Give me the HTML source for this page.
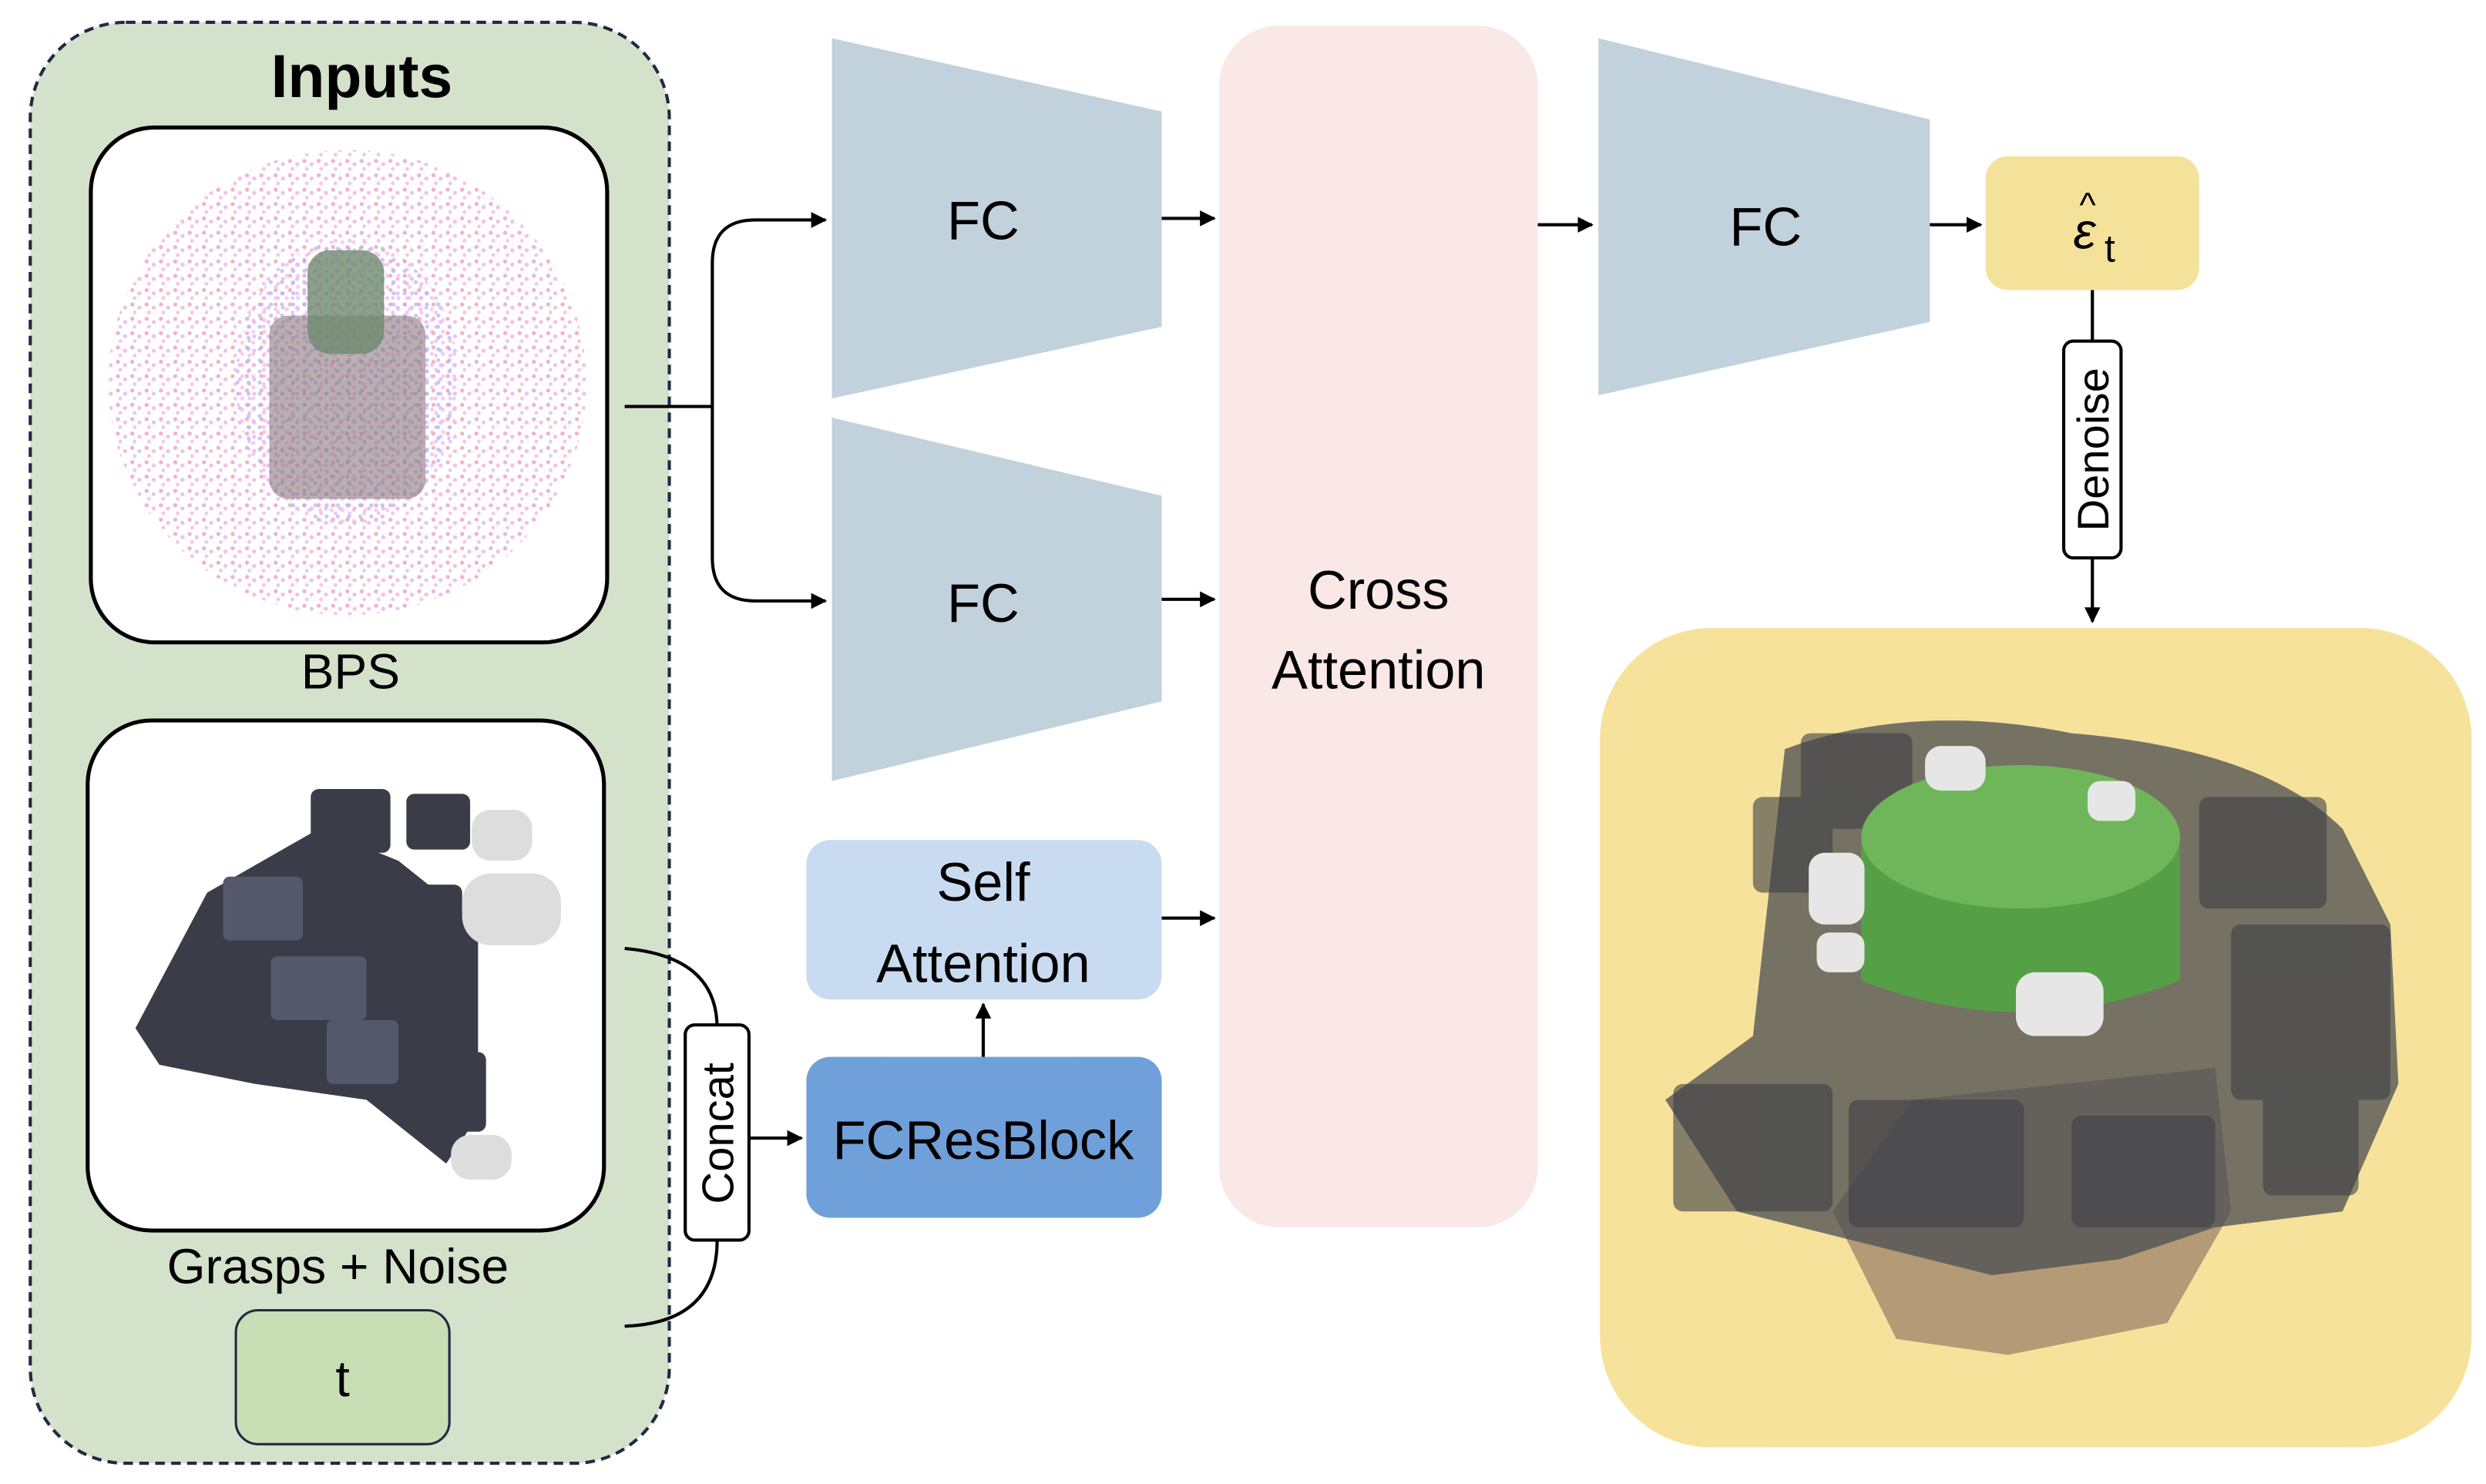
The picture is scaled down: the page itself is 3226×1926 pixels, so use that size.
<!DOCTYPE html>
<html><head><meta charset="utf-8"><style>html,body{margin:0;padding:0;background:#fff}svg{display:block}</style></head>
<body>
<svg width="3226" height="1926" viewBox="0 0 1560 931" preserveAspectRatio="none" xmlns="http://www.w3.org/2000/svg" font-family="Liberation Sans, sans-serif">
<defs>
<marker id="ar" viewBox="0 0 10 10" refX="9" refY="5" markerWidth="5" markerHeight="5" orient="auto"><path d="M0,0L10,5L0,10z" fill="#000"/></marker>
<pattern id="dots" width="9" height="9" patternUnits="userSpaceOnUse"><circle cx="2" cy="2" r="1.3" fill="#f3b3c0"/><circle cx="6.5" cy="4" r="1.3" fill="#f0c0f0"/><circle cx="3.5" cy="7" r="1.2" fill="#f2c6ee"/></pattern>
<pattern id="dots2" width="7" height="7" patternUnits="userSpaceOnUse"><circle cx="2" cy="2" r="1.3" fill="#a8b4f5"/><circle cx="5" cy="5" r="1.3" fill="#f0b8e8"/></pattern>
</defs>
<rect x="19" y="14" width="401" height="904" rx="60" fill="#d5e2cb" stroke="#1f2a44" stroke-width="2" stroke-dasharray="6,4"/>
<text x="227" y="61" font-size="38" font-weight="bold" text-anchor="middle">Inputs</text>
<rect x="57" y="80" width="324" height="323" rx="40" fill="#fff" stroke="#000" stroke-width="2.5"/>
<ellipse cx="218" cy="240" rx="150" ry="146" fill="url(#dots)"/>
<ellipse cx="218" cy="240" rx="70" ry="90" fill="url(#dots2)" opacity="0.7"/>
<rect x="169" y="198" width="98" height="115" rx="12" fill="#8a7a80" opacity="0.6"/>
<rect x="193" y="157" width="48" height="65" rx="14" fill="#6e8a6e" opacity="0.8"/>
<text x="220" y="432" font-size="31" text-anchor="middle">BPS</text>
<rect x="55" y="452" width="324" height="320" rx="40" fill="#fff" stroke="#000" stroke-width="2.5"/>
<g fill="#3a3d48">
<polygon points="85,645 130,560 200,520 250,540 300,580 300,700 280,730 230,690 160,680 100,668"/>
<rect x="195" y="495" width="50" height="40" rx="5"/><rect x="255" y="498" width="40" height="35" rx="5"/>
<rect x="245" y="555" width="45" height="50" rx="5"/><rect x="265" y="660" width="40" height="50" rx="5"/>
</g>
<g fill="#55586a"><rect x="170" y="600" width="60" height="40" rx="4"/><rect x="140" y="550" width="50" height="40" rx="4"/><rect x="205" y="640" width="45" height="40" rx="4"/></g>
<rect x="296" y="508" width="38" height="32" rx="12" fill="#ddd"/>
<rect x="290" y="548" width="62" height="45" rx="18" fill="#ddd"/>
<rect x="283" y="712" width="38" height="28" rx="12" fill="#ddd"/>
<text x="212" y="805" font-size="31" text-anchor="middle">Grasps + Noise</text>
<rect x="148" y="822" width="134" height="84" rx="14" fill="#c8deb5" stroke="#1f2a44" stroke-width="1.5"/>
<text x="215" y="876" font-size="32" text-anchor="middle">t</text>
<path d="M392,255 H447 M447,255 V165 Q447,138 474,138 H518" fill="none" stroke="#000" stroke-width="2" marker-end="url(#ar)"/>
<path d="M447,255 V350 Q447,377 474,377 H518" fill="none" stroke="#000" stroke-width="2" marker-end="url(#ar)"/>
<path d="M392,595 Q450,600 450,645 M450,778 Q450,830 392,832" fill="none" stroke="#000" stroke-width="2"/>
<path d="M470,714 H503" fill="none" stroke="#000" stroke-width="2" marker-end="url(#ar)"/>
<rect x="430" y="643" width="40" height="135" rx="6" fill="#fff" stroke="#000" stroke-width="2"/>
<text transform="translate(460,711) rotate(-90)" font-size="28" text-anchor="middle">Concat</text>
<polygon points="522,24 729,70 729,205 522,250" fill="#c2d2dc"/>
<polygon points="522,262 729,311 729,440 522,490" fill="#c2d2dc"/>
<polygon points="1003,24 1211,75 1211,202 1003,248" fill="#c2d2dc"/>
<text x="617" y="150" font-size="34" text-anchor="middle">FC</text>
<text x="617" y="390" font-size="34" text-anchor="middle">FC</text>
<text x="1108" y="154" font-size="34" text-anchor="middle">FC</text>
<rect x="765" y="16" width="200" height="754" rx="38" fill="#f9e8e6"/>
<text x="865" y="382" font-size="34" text-anchor="middle">Cross</text>
<text x="865" y="432" font-size="34" text-anchor="middle">Attention</text>
<rect x="506" y="527" width="223" height="100" rx="15" fill="#c9dbf0"/>
<text x="617" y="565" font-size="34" text-anchor="middle">Self</text>
<text x="617" y="616" font-size="34" text-anchor="middle">Attention</text>
<rect x="506" y="663" width="223" height="101" rx="15" fill="#6fa0da"/>
<text x="617" y="727" font-size="34" text-anchor="middle">FCResBlock</text>
<g stroke="#000" stroke-width="2" fill="none" marker-end="url(#ar)">
<path d="M617,663 V630"/><path d="M729,137 H762"/><path d="M729,376 H762"/><path d="M729,576 H762"/>
<path d="M965,141 H999"/><path d="M1211,141 H1243"/><path d="M1313,182 V390"/>
</g>
<rect x="1246" y="98" width="134" height="84" rx="14" fill="#f5e29a"/>
<text x="1308" y="156" font-size="32" text-anchor="middle" font-style="italic">ε</text>
<text x="1310" y="136" font-size="22" text-anchor="middle">^</text>
<text x="1324" y="164" font-size="24" text-anchor="middle">t</text>
<rect x="1295" y="214" width="36" height="136" rx="6" fill="#fff" stroke="#000" stroke-width="2"/>
<text transform="translate(1323,282) rotate(-90)" font-size="28" text-anchor="middle">Denoise</text>
<rect x="1004" y="394" width="547" height="514" rx="70" fill="#f6e29b"/>
<polygon points="1150,760 1190,840 1260,850 1360,830 1400,760 1390,670 1200,690" fill="#b59a78"/>
<g fill="#4a4c52" opacity="0.75">
<path d="M1120,470 Q1200,440 1300,460 Q1420,470 1470,520 L1500,580 L1505,680 L1470,760 L1390,770 L1330,790 L1250,800 L1170,780 L1090,760 L1045,690 L1100,650 L1110,560 Z"/>
</g>
<g fill="#3e4046" opacity="0.6">
<rect x="1130" y="460" width="70" height="60" rx="6"/><rect x="1380" y="500" width="80" height="70" rx="6"/><rect x="1400" y="580" width="100" height="110" rx="6"/>
<rect x="1050" y="680" width="100" height="80" rx="6"/><rect x="1160" y="690" width="110" height="80" rx="6"/><rect x="1300" y="700" width="90" height="70" rx="6"/>
<rect x="1100" y="500" width="50" height="60" rx="6"/><rect x="1420" y="680" width="60" height="70" rx="6"/>
</g>
<path d="M1168,525 V615 Q1268,655 1368,615 V525 Z" fill="#55a046"/>
<ellipse cx="1268" cy="525" rx="100" ry="45" fill="#6fb55a"/>
<g fill="#e6e6e6">
<rect x="1208" y="468" width="38" height="28" rx="10"/><rect x="1135" y="535" width="35" height="45" rx="10"/>
<rect x="1265" y="610" width="55" height="40" rx="12"/><rect x="1310" y="490" width="30" height="25" rx="8"/>
<rect x="1140" y="585" width="30" height="25" rx="8"/>
</g>
</svg>
</body></html>
